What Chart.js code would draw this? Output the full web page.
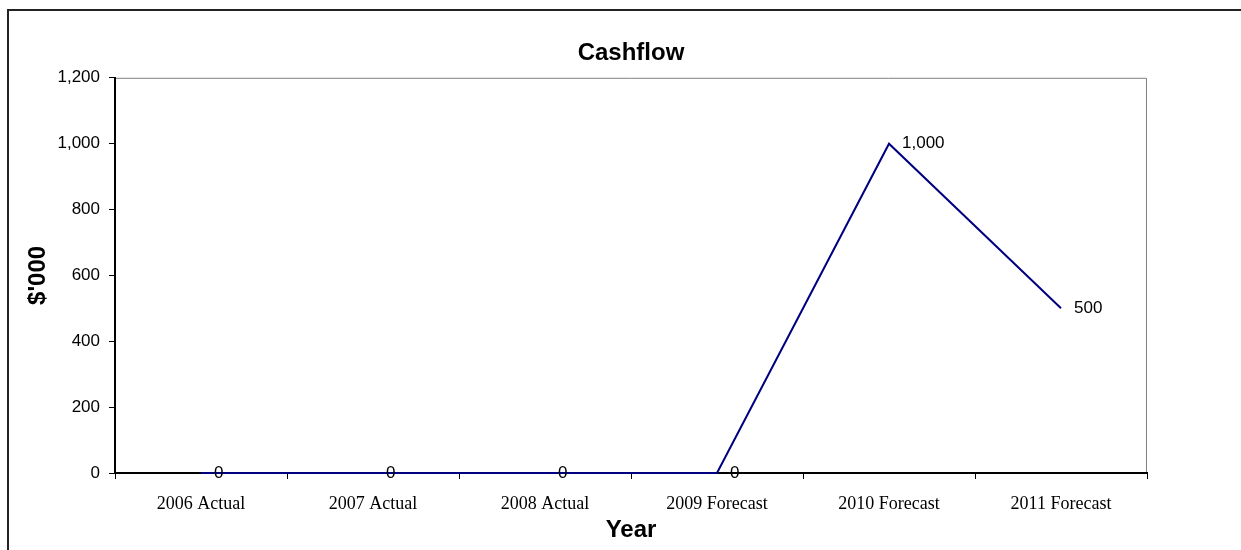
<!DOCTYPE html>
<html>
<head>
<meta charset="utf-8">
<script src="https://cdn.jsdelivr.net/npm/chart.js@4/dist/chart.umd.min.js"></script>
<style>
  html, body { margin: 0; padding: 0; background: #fff; }
  #wrap { width: 1241px; height: 550px; }
</style>
</head>
<body>
<div id="wrap"><canvas id="cashflowChart" width="1241" height="550"></canvas></div>
<script>
// chart data
const years = ['2006 Actual', '2007 Actual', '2008 Actual', '2009 Forecast', '2010 Forecast', '2011 Forecast'];
const cashflow = [0, 0, 0, 0, 1000, 500];
const yTicks = [0, 200, 400, 600, 800, 1000, 1200];

const sans = "'Liberation Sans', Arial, sans-serif";
const serif = "'Liberation Serif', 'Times New Roman', serif";

// outer frame + grey plot box (like the Excel chart area)
const frames = {
  id: 'frames',
  beforeDraw(chart) {
    const ctx = chart.ctx;
    const a = chart.chartArea;
    ctx.save();
    ctx.fillStyle = '#fff';
    ctx.fillRect(0, 0, chart.width, chart.height);
    ctx.strokeStyle = '#222';
    ctx.lineWidth = 2;
    ctx.beginPath();
    ctx.moveTo(8, chart.height);
    ctx.lineTo(8, 10);
    ctx.lineTo(chart.width, 10);
    ctx.stroke();
    ctx.strokeStyle = '#808080';
    ctx.lineWidth = 1;
    ctx.beginPath();
    ctx.moveTo(a.left, a.top + 0.5);
    ctx.lineTo(a.right - 0.5, a.top + 0.5);
    ctx.lineTo(a.right - 0.5, a.bottom);
    ctx.stroke();
    ctx.restore();
  }
};

// value labels to the right of each point
const pointLabels = {
  id: 'pointLabels',
  afterDatasetsDraw(chart) {
    const ctx = chart.ctx;
    const meta = chart.getDatasetMeta(0);
    ctx.save();
    ctx.font = '17px ' + sans;
    ctx.fillStyle = '#000';
    ctx.textAlign = 'left';
    ctx.textBaseline = 'middle';
    meta.data.forEach((pt, i) => {
      ctx.fillText(cashflow[i].toLocaleString('en-US'), pt.x + 13, pt.y);
    });
    ctx.restore();
  }
};

new Chart(document.getElementById('cashflowChart').getContext('2d'), {
  type: 'line',
  data: {
    labels: years,
    datasets: [{
      label: 'Cashflow',
      data: cashflow,
      borderColor: '#000080',
      borderWidth: 2,
      pointRadius: 0,
      tension: 0,
      fill: false,
      clip: false
    }]
  },
  options: {
    responsive: false,
    animation: false,
    layout: { padding: { left: 0, right: 94, top: 0, bottom: 0 } },
    plugins: {
      legend: { display: false },
      tooltip: { enabled: false },
      title: {
        display: true,
        text: 'Cashflow',
        fullSize: false,
        color: '#000',
        font: { family: sans, size: 24, weight: 'bold', lineHeight: 1.2 },
        padding: { top: 39, bottom: 10 }
      }
    },
    scales: {
      x: {
        offset: true,
        grid: {
          offset: true,
          drawOnChartArea: false,
          drawTicks: true,
          tickLength: 6,
          color: '#000'
        },
        border: { color: '#000', width: 2 },
        ticks: {
          color: '#000',
          padding: 14,
          maxRotation: 0,
          autoSkip: false,
          font: { family: serif, size: 18 }
        },
        title: {
          display: true,
          text: 'Year',
          color: '#000',
          font: { family: sans, size: 24, weight: 'bold', lineHeight: 1.2 },
          padding: { top: 0, bottom: 5 }
        },
        afterFit(scale) { scale.height = 77; }
      },
      y: {
        min: 0,
        max: 1200,
        afterBuildTicks(scale) { scale.ticks = yTicks.map(v => ({ value: v })); },
        grid: {
          drawOnChartArea: false,
          drawTicks: true,
          tickLength: 6,
          color: '#000'
        },
        border: { color: '#000', width: 2 },
        ticks: {
          color: '#000',
          padding: 9,
          font: { family: sans, size: 17 },
          callback: v => v.toLocaleString('en-US')
        },
        title: {
          display: true,
          text: "$'000",
          color: '#000',
          font: { family: sans, size: 24, weight: 'bold', lineHeight: 1.2 },
          padding: { top: 24, bottom: 0 }
        },
        afterFit(scale) { scale.width = 115; }
      }
    }
  },
  plugins: [frames, pointLabels]
});
</script>
</body>
</html>
